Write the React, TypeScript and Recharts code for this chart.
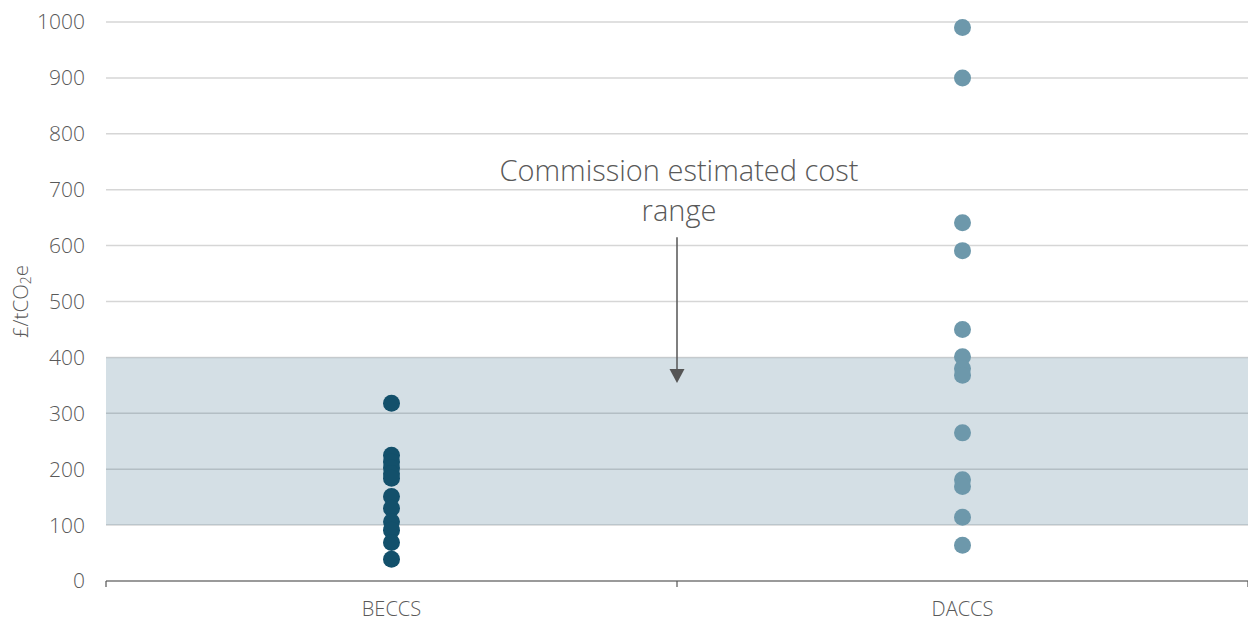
import React from 'react';
import {
  ScatterChart,
  Scatter,
  XAxis,
  YAxis,
  CartesianGrid,
  ReferenceArea,
  ReferenceLine,
  Label,
} from 'recharts';

const categories = ['BECCS', 'DACCS'];
const beccsValues = [318, 225, 213, 202, 192, 184, 151, 130, 106, 91, 69, 39];
const daccsValues = [990, 900, 641, 591, 450, 401, 380, 368, 265, 181, 169, 114, 64];
const yTicks = [0, 100, 200, 300, 400, 500, 600, 700, 800, 900, 1000];
const rangeLow = 100;
const rangeHigh = 400;
const annotationLines = ['Commission estimated cost', 'range'];
const annotationFrom = 615;
const annotationTo = 354;

const beccsData = beccsValues.map((v) => ({ x: categories.indexOf('BECCS') + 0.5, y: v }));
const daccsData = daccsValues.map((v) => ({ x: categories.indexOf('DACCS') + 0.5, y: v }));
const xTicks: number[] = [];
for (let i = 0; i <= categories.length; i++) {
  xTicks.push(i);
  if (i < categories.length) xTicks.push(i + 0.5);
}

const FONT = '"Open Sans", sans-serif';
const TEXT = '#595959';
const W = 300;

const XTick = (props: any) => {
  const { x, y, payload } = props;
  const v = payload.value as number;
  if (Number.isInteger(v)) {
    return <line x1={x} x2={x} y1={y} y2={y + 6} stroke="#555" strokeWidth={1.2} />;
  }
  return (
    <text x={x} y={y + 35} textAnchor="middle" fontFamily={FONT} fontWeight={W} fontSize={20} fill={TEXT}>
      {categories[Math.floor(v)]}
    </text>
  );
};

const dot = (color: string) => (p: any) => <circle cx={p.cx} cy={p.cy} r={8.5} fill={color} />;

const ArrowShape = (p: any) => {
  const { x1, y1, y2 } = p;
  const head = 14;
  return (
    <g>
      <text x={x1 + 2} y={y1 - 56} textAnchor="middle" fontFamily={FONT} fontWeight={W} fontSize={29} fill={TEXT}>
        {annotationLines[0]}
      </text>
      <text x={x1 + 2} y={y1 - 16} textAnchor="middle" fontFamily={FONT} fontWeight={W} fontSize={29} fill={TEXT}>
        {annotationLines[1]}
      </text>
      <line x1={x1} x2={x1} y1={y1} y2={y2 - head} stroke="#555" strokeWidth={1.5} />
      <polygon points={`${x1 - 7.5},${y2 - head} ${x1 + 7.5},${y2 - head} ${x1},${y2}`} fill="#555" />
    </g>
  );
};

const YLabel = (props: any) => {
  const vb = props.viewBox || {};
  const cx = 20;
  const cy = (vb.y ?? 22) + (vb.height ?? 559) / 2;
  return (
    <text
      x={cx}
      y={cy}
      transform={`rotate(-90, ${cx}, ${cy})`}
      textAnchor="middle"
      dominantBaseline="central"
      fontFamily={FONT}
      fontWeight={W}
      fontSize={20.5}
      fill={TEXT}
    >
      £/tCO<tspan fontSize={14} dy={5}>2</tspan>
      <tspan dy={-5}>e</tspan>
    </text>
  );
};

export default function App() {
  return (
    <div style={{ position: 'absolute', left: 0, top: 0, width: 1248, height: 622, background: '#fff' }}>
      <ScatterChart width={1248} height={622} margin={{ top: 22, right: 0, bottom: 0, left: 0 }}>
        <CartesianGrid vertical={false} stroke="#d6d6d6" strokeWidth={1.5} />
        <ReferenceArea y1={rangeLow} y2={rangeHigh} fill="#2a5d7e" fillOpacity={0.2} stroke="none" ifOverflow="visible" />
        <XAxis
          type="number"
          dataKey="x"
          domain={[0, categories.length]}
          ticks={xTicks}
          interval={0}
          height={41}
          axisLine={{ stroke: '#555', strokeWidth: 1.2 }}
          tickLine={false}
          tickSize={0}
          tickMargin={0}
          tick={<XTick />}
        />
        <YAxis
          type="number"
          dataKey="y"
          domain={[0, 1000]}
          ticks={yTicks}
          interval={0}
          width={106}
          axisLine={false}
          tickLine={false}
          tickSize={0}
          tickMargin={21}
          tick={{ fontFamily: FONT, fontWeight: W, fontSize: 21, fill: TEXT }}
        >
          <Label content={<YLabel />} />
        </YAxis>
        <ReferenceLine
          segment={[
            { x: 1, y: annotationFrom },
            { x: 1, y: annotationTo },
          ]}
          ifOverflow="visible"
          shape={<ArrowShape />}
        />
        <Scatter data={beccsData} fill="#13506b" shape={dot('#13506b')} isAnimationActive={false} />
        <Scatter data={daccsData} fill="#6d98ab" shape={dot('#6d98ab')} isAnimationActive={false} />
      </ScatterChart>
    </div>
  );
}
